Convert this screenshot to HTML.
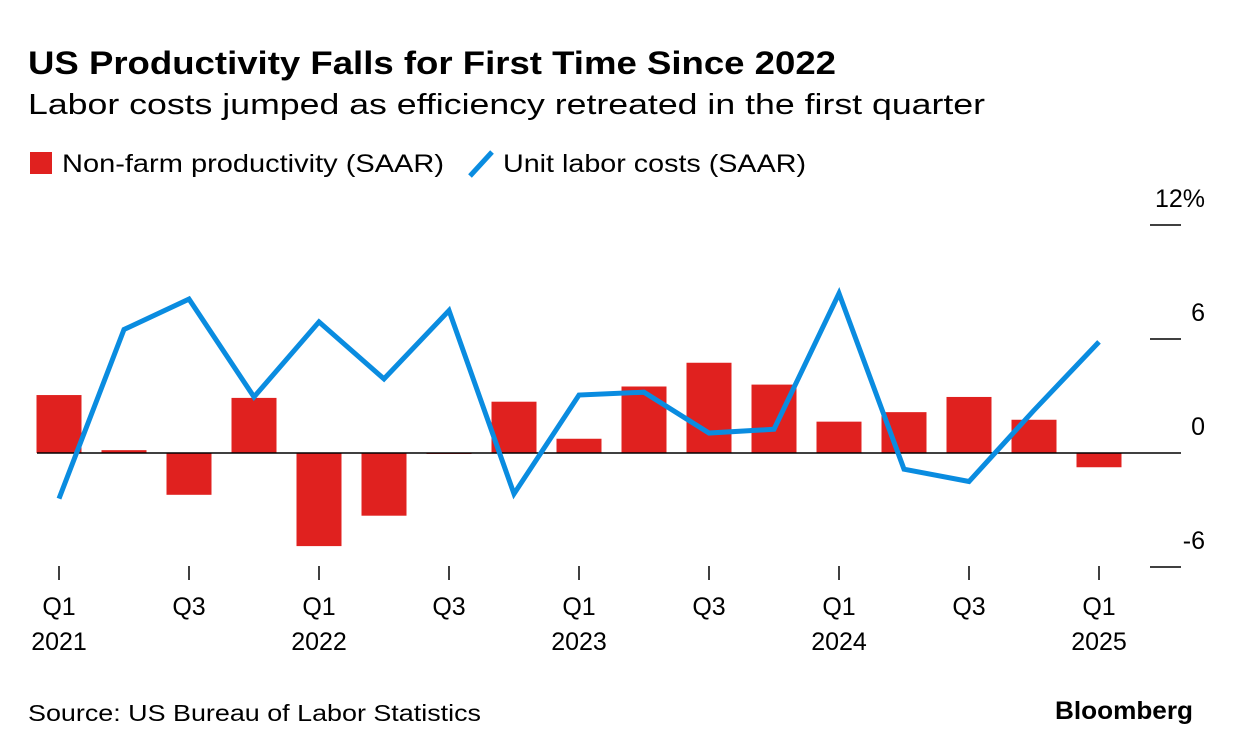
<!DOCTYPE html>
<html><head><meta charset="utf-8"><style>
body{margin:0;background:#fff;width:1233px;height:754px;overflow:hidden;font-family:"Liberation Sans",sans-serif;color:#000}
</style></head><body>
<svg width="1233" height="754" style="position:absolute;left:0;top:0">
<text x="28" y="74" font-size="32" font-weight="bold" textLength="808" lengthAdjust="spacingAndGlyphs">US Productivity Falls for First Time Since 2022</text>
<text x="28" y="114" font-size="29" textLength="957" lengthAdjust="spacingAndGlyphs">Labor costs jumped as efficiency retreated in the first quarter</text>
<g>
<rect x="30" y="152" width="22" height="22" fill="#e0211f"/>
<text x="62" y="172" font-size="25" textLength="382" lengthAdjust="spacingAndGlyphs">Non-farm productivity (SAAR)</text>
<line x1="470" y1="176" x2="492" y2="152" stroke="#0a8ce0" stroke-width="5"/>
<text x="503" y="172" font-size="25" textLength="303" lengthAdjust="spacingAndGlyphs">Unit labor costs (SAAR)</text>
</g>
<g id="axes"></g><g id="bars"></g><g id="line"></g>
<text x="28" y="721" font-size="23" textLength="453" lengthAdjust="spacingAndGlyphs">Source: US Bureau of Labor Statistics</text>
<text x="1055" y="719" font-size="25" font-weight="bold" textLength="138" lengthAdjust="spacingAndGlyphs">Bloomberg</text>
</svg>
<script>
const categories=["Q1 2021","Q2 2021","Q3 2021","Q4 2021","Q1 2022","Q2 2022","Q3 2022","Q4 2022","Q1 2023","Q2 2023","Q3 2023","Q4 2023","Q1 2024","Q2 2024","Q3 2024","Q4 2024","Q1 2025"];
const productivity=[3.05,0.15,-2.2,2.9,-4.9,-3.3,-0.05,2.7,0.75,3.5,4.75,3.6,1.65,2.15,2.95,1.75,-0.75];
const laborCosts=[-2.4,6.5,8.1,2.95,6.9,3.9,7.5,-2.15,3.05,3.2,1.05,1.25,8.4,-0.85,-1.5,2.25,5.85];
const yTicks=[12,6,0,-6];
const yTickLabels=["12%","6","0","-6"];
const xLabelIdx=[0,2,4,6,8,10,12,14,16];
const xLabelTop=["Q1","Q3","Q1","Q3","Q1","Q3","Q1","Q3","Q1"];
const xLabelBottom=["2021","","2022","","2023","","2024","","2025"];
const NS="http://www.w3.org/2000/svg";
const x=i=>59+i*65;
const y=v=>453-v*19;
function mk(tag,attrs,parent){const e=document.createElementNS(NS,tag);for(const k in attrs)e.setAttribute(k,attrs[k]);document.getElementById(parent).appendChild(e);return e;}
yTicks.forEach((t,i)=>{
 const l=mk('line',{x1:1150,x2:1181,y1:y(t),y2:y(t),stroke:'#000','stroke-width':1.5},'axes');
 
 
 const tx=mk('text',{x:1205,y:y(t)-18,'font-size':25,'text-anchor':'end'},'axes');tx.textContent=yTickLabels[i];
 
 
});
productivity.forEach((v,i)=>{
 const r=mk('rect',{x:x(i)-22.5,width:45,y:Math.min(y(v),y(0)),height:Math.abs(y(v)-y(0)),fill:'#e0211f'},'bars');
 
 
});
const zl=mk('line',{x1:37,x2:1150,y1:y(0),y2:y(0),stroke:'#000','stroke-width':1.5},'bars');


const p=mk('polyline',{points:laborCosts.map((v,i)=>x(i)+','+y(v)).join(' '),fill:'none',stroke:'#0a8ce0','stroke-width':5,'stroke-linejoin':'miter'},'line');


xLabelIdx.forEach((idx,j)=>{
 const tk=mk('line',{x1:x(idx),x2:x(idx),y1:566,y2:580,stroke:'#000','stroke-width':1.5},'axes');
 
 
 const t1=mk('text',{x:x(idx),y:615,'font-size':25,'text-anchor':'middle'},'axes');t1.textContent=xLabelTop[j];
 
 
 if(xLabelBottom[j]){const t2=mk('text',{x:x(idx),y:650,'font-size':25,'text-anchor':'middle'},'axes');t2.textContent=xLabelBottom[j];
 
 }
});
</script>
</body></html>
